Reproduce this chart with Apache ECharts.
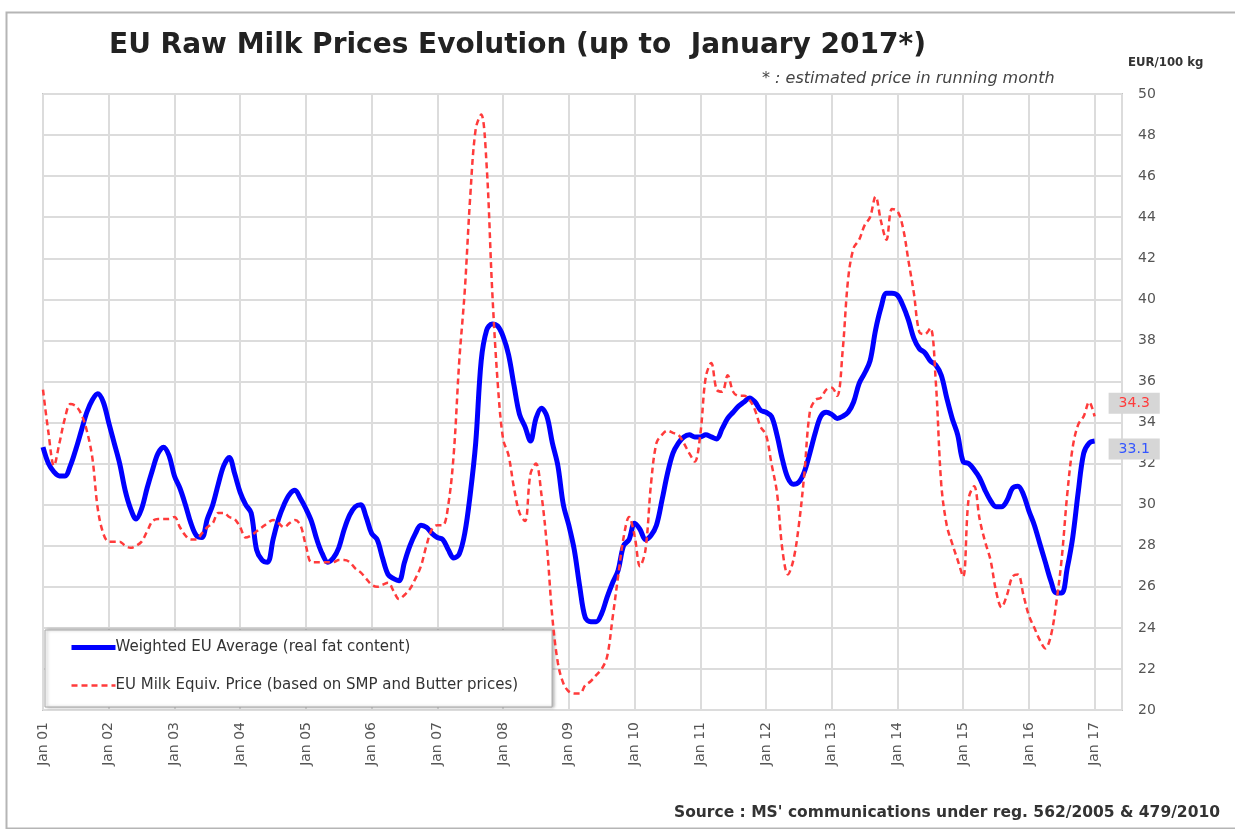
<!DOCTYPE html>
<html>
<head>
<meta charset="utf-8">
<script src="https://cdn.jsdelivr.net/npm/echarts@6/dist/echarts.min.js"></script>
<style>
html,body{margin:0;padding:0;background:#fff;}
#chart{width:1235px;height:829px;}
</style>
</head>
<body>
<div id="chart"></div>
<script>
// Monthly values, index 0 = Jan 2001 ... 192 = Jan 2017 (EUR/100 kg)
const yearTicks = ['Jan 01','Jan 02','Jan 03','Jan 04','Jan 05','Jan 06','Jan 07','Jan 08','Jan 09','Jan 10','Jan 11','Jan 12','Jan 13','Jan 14','Jan 15','Jan 16','Jan 17'];
const seriesNames = ['Weighted EU Average (real fat content)', 'EU Milk Equiv. Price (based on SMP and Butter prices)'];

const weightedEUAverage = [
  32.8, 32.0, 31.6, 31.4, 31.4, 31.9, 32.7, 33.6, 34.5, 35.1,
  35.4, 35.0, 34.0, 33.0, 32.0, 30.7, 29.8, 29.3, 29.8, 30.8,
  31.7, 32.5, 32.8, 32.4, 31.4, 30.8, 30.0, 29.1, 28.5, 28.4,
  29.3, 30.0, 31.0, 31.9, 32.3, 31.5, 30.6, 30.0, 29.6, 27.8,
  27.3, 27.2, 28.3, 29.3, 30.0, 30.5, 30.7, 30.3, 29.8, 29.2,
  28.3, 27.6, 27.2, 27.4, 27.9, 28.8, 29.5, 29.9, 30.0, 29.4,
  28.6, 28.3, 27.4, 26.6, 26.4, 26.3, 27.2, 28.0, 28.6, 29.0,
  28.9, 28.6, 28.4, 28.3, 27.8, 27.4, 27.6, 28.6, 30.5, 33.0,
  37.0, 38.5, 38.8, 38.7, 38.2, 37.3, 35.8, 34.4, 33.8, 33.1,
  34.2, 34.7, 34.3, 33.0, 31.9, 30.0, 29.0, 27.8, 26.0, 24.5,
  24.3, 24.3, 24.7, 25.5, 26.2, 26.8, 28.0, 28.3, 29.1, 28.8,
  28.3, 28.5, 29.0, 30.2, 31.5, 32.5, 33.0, 33.3, 33.4, 33.3,
  33.3, 33.4, 33.3, 33.2, 33.7, 34.2, 34.5, 34.8, 35.0, 35.2,
  35.0, 34.6, 34.5, 34.3, 33.4, 32.2, 31.3, 31.0, 31.1, 31.6,
  32.5, 33.5, 34.3, 34.5, 34.4, 34.2, 34.3, 34.5, 35.0, 35.9,
  36.4, 37.0, 38.5, 39.6, 40.3, 40.3, 40.2, 39.7, 39.0, 38.1,
  37.6, 37.4, 37.0, 36.8, 36.3, 35.2, 34.2, 33.4, 32.1, 32.0,
  31.7, 31.3, 30.7, 30.2, 29.9, 29.9, 30.2, 30.8, 30.9, 30.5,
  29.7, 29.0, 28.1, 27.2, 26.3, 25.7, 25.7, 26.9, 28.4, 30.6,
  32.5, 33.0, 33.1
];

const milkEquivPrice = [
  35.6, 33.5, 31.9, 33.0, 34.2, 34.9, 34.8, 34.4, 33.6, 32.3,
  29.8, 28.6, 28.2, 28.2, 28.2, 28.0, 27.9, 28.0, 28.2, 28.7,
  29.2, 29.3, 29.3, 29.3, 29.4, 28.9, 28.5, 28.3, 28.3, 28.6,
  28.9, 29.1, 29.6, 29.6, 29.4, 29.3, 28.9, 28.4, 28.5, 28.7,
  28.9, 29.1, 29.25, 29.1, 28.9, 29.1, 29.25, 29.0, 28.0, 27.2,
  27.2, 27.2, 27.2, 27.2, 27.3, 27.3, 27.2, 26.9, 26.7, 26.4,
  26.1, 26.0, 26.1, 26.2, 25.8, 25.4, 25.6, 25.9, 26.4, 27.0,
  28.0, 28.8, 29.0, 29.0, 30.0, 32.5, 37.0, 40.4, 45.0, 48.3,
  49.0, 46.5, 40.5, 36.0, 33.2, 32.4, 30.8, 29.6, 29.2, 31.5,
  32.0, 30.5, 28.0, 24.5, 22.3, 21.3, 20.9, 20.8, 20.8, 21.2,
  21.4, 21.7, 22.0, 22.6, 24.5, 26.5, 28.4, 29.4, 28.5, 27.0,
  27.8, 31.0, 33.0, 33.4, 33.6, 33.5, 33.4, 33.0, 32.5, 32.1,
  33.4, 36.2, 36.9, 35.6, 35.5, 36.3, 35.5, 35.3, 35.3, 35.1,
  34.6, 33.8, 33.4, 32.0, 30.6, 27.8, 26.6, 27.3, 29.0, 31.5,
  34.5, 35.1, 35.2, 35.6, 35.7, 35.3, 37.5, 41.0, 42.5, 42.9,
  43.6, 44.0, 45.0, 43.8, 42.9, 44.4, 44.3, 43.5, 41.9, 40.3,
  38.4, 38.3, 38.6, 36.0, 31.0, 29.0, 28.1, 27.3, 26.5, 30.3,
  30.9, 29.3, 28.2, 27.3, 25.8, 25.0, 25.6, 26.5, 26.6, 25.6,
  24.6, 24.0, 23.4, 23.0, 23.6, 25.2, 27.4, 30.5, 32.8, 33.9,
  34.3, 35.0, 34.3
];

const toPairs = arr => arr.map((v, i) => [i, v]);

const chart = echarts.init(document.getElementById('chart'));
const FONT = 'DejaVu Sans';

chart.setOption({
  animation: false,
  backgroundColor: '#ffffff',
  title: {
    text: 'EU Raw Milk Prices Evolution (up to  January 2017*)',
    left: 104, top: 27,
    textStyle: { fontFamily: FONT, fontWeight: 'bold', fontSize: 28, color: '#222' }
  },
  graphic: [
    { type: 'rect', left: 4, top: 10, shape: { width: 1240, height: 816 },
      style: { fill: 'none', stroke: '#b5b5b5', lineWidth: 2 }, silent: true },
    { type: 'text', left: 1128, top: 56,
      style: { text: 'EUR/100 kg', font: 'bold 13px "DejaVu Sans Condensed"', fill: '#333' } },
    { type: 'text', left: 762, top: 71,
      style: { text: '* : estimated price in running month', font: 'italic 16px "DejaVu Sans"', fill: '#444' } },
    { type: 'text', left: 674, top: 805,
      style: { text: "Source : MS' communications under reg. 562/2005 & 479/2010", font: 'bold 15.5px "DejaVu Sans"', fill: '#333' } }
  ],
  grid: { left: 43, top: 94, right: 113, bottom: 119, show: true, borderColor: '#c4c4c4', borderWidth: 2, backgroundColor: '#fff' },
  legend: {
    orient: 'vertical', left: 45, top: 630,
    padding: [10, 34, 14, 24], itemGap: 23, itemWidth: 44, itemHeight: 12,
    backgroundColor: '#fff', borderColor: '#a8a8a8', borderWidth: 1,
    shadowColor: 'rgba(0,0,0,0.3)', shadowBlur: 3, shadowOffsetX: 2, shadowOffsetY: 0,
    itemStyle: { opacity: 0 },
    textStyle: { fontFamily: FONT, fontSize: 15, color: '#333', padding: [0, 0, 0, -5] },
    data: [
      { name: seriesNames[0], lineStyle: { width: 5, color: '#0000ff' } },
      { name: seriesNames[1], lineStyle: { width: 2.5, color: '#ff3b3b', type: [6, 4] } }
    ]
  },
  xAxis: {
    type: 'value', min: 0, max: 197, interval: 12,
    axisLine: { show: false }, axisTick: { show: false },
    splitLine: { show: true, lineStyle: { color: '#dcdcdc', width: 2 } },
    axisLabel: {
      rotate: 90, margin: 12, fontFamily: FONT, fontSize: 14, color: '#555',
      showMaxLabel: false,
      formatter: v => yearTicks[Math.round(v / 12)] || ''
    }
  },
  yAxis: {
    type: 'value', position: 'right', min: 20, max: 50, interval: 2,
    axisLine: { show: false }, axisTick: { show: false },
    splitLine: { show: true, lineStyle: { color: '#dcdcdc', width: 2 } },
    axisLabel: { margin: 16, fontFamily: FONT, fontSize: 14, color: '#555' }
  },
  series: [
    {
      name: seriesNames[0], type: 'line', data: toPairs(weightedEUAverage),
      symbol: 'none', smooth: 0.35, z: 3,
      lineStyle: { color: '#0000ff', width: 5 }, itemStyle: { color: '#0000ff' },
      endLabel: {
        show: true, formatter: p => p.value[1].toFixed(1), offset: [6, 8],
        fontFamily: FONT, fontSize: 14, color: '#3355ff',
        backgroundColor: '#d6d6d6', padding: [4, 10, 3, 10]
      }
    },
    {
      name: seriesNames[1], type: 'line', data: toPairs(milkEquivPrice),
      symbol: 'none', smooth: 0.35, z: 4,
      lineStyle: { color: '#ff3b3b', width: 2.5, type: [6, 4] }, itemStyle: { color: '#ff3b3b' },
      endLabel: {
        show: true, formatter: p => p.value[1].toFixed(1), offset: [6, -13],
        fontFamily: FONT, fontSize: 14, color: '#ff3b3b',
        backgroundColor: '#d6d6d6', padding: [4, 10, 3, 10]
      }
    }
  ]
});
</script>
</body>
</html>
